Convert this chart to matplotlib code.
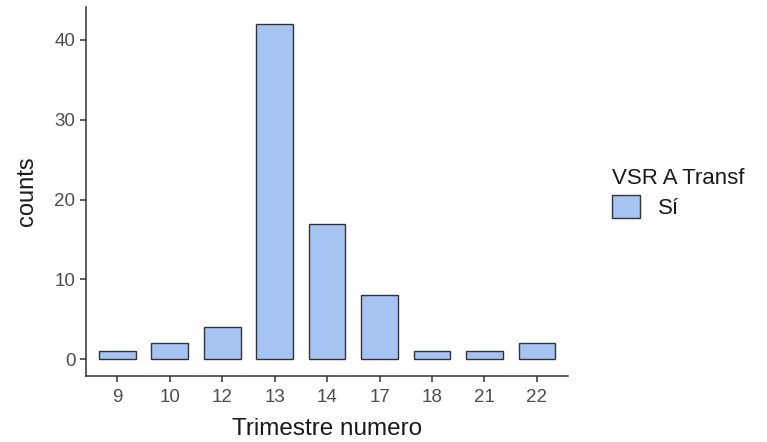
import numpy as np
import matplotlib
matplotlib.use('Agg')
import matplotlib.pyplot as plt
from matplotlib.patches import Patch

plt.rcParams['font.family'] = ['Liberation Sans', 'DejaVu Sans']

# datos
trimestres = ['9', '10', '12', '13', '14', '17', '18', '21', '22']
counts = [1, 2, 4, 42, 17, 8, 1, 1, 2]
grupo = 'Sí'
titulo_leyenda = 'VSR A Transf'

fill = '#a6c4f2'
edge = '#333333'
gris = '#4d4d4d'

fig = plt.figure(figsize=(7.67, 4.42), dpi=100)
ax = fig.add_axes([0.112, 0.149, 0.629, 0.835])

x = np.arange(len(trimestres))
ax.bar(x, counts, width=0.7, color=fill, edgecolor=edge, linewidth=1.0)

ax.set_xlim(-0.6, len(trimestres) - 0.4)
ax.set_ylim(-2.1, 44.1)
ax.set_xticks(x)
ax.set_xticklabels(trimestres)
ax.set_yticks([0, 10, 20, 30, 40])

for s in ['top', 'right']:
    ax.spines[s].set_visible(False)
for s in ['left', 'bottom']:
    ax.spines[s].set_color('#333333')
    ax.spines[s].set_linewidth(1.1)
ax.tick_params(colors='#333333', labelcolor=gris, labelsize=13.5, length=4, width=1.1)
ax.tick_params(axis='x', pad=5)

ax.set_xlabel('Trimestre numero', fontsize=17.5, color='#1a1a1a', labelpad=9)
ax.set_ylabel('counts', fontsize=17, color='#1a1a1a', labelpad=12)

leg = fig.legend(handles=[Patch(facecolor=fill, edgecolor=edge, label=grupo)],
                 title=titulo_leyenda, loc='upper left', bbox_to_anchor=(0.772, 0.665),
                 frameon=False, fontsize=16, title_fontsize=16,
                 handlelength=1.25, handleheight=1.25, handletextpad=0.8,
                 labelspacing=0.3)
leg._legend_box.align = 'left'
leg._legend_box.sep = 4
for t in leg.get_texts():
    t.set_color('#1a1a1a')
leg.get_title().set_color('#1a1a1a')

fig.savefig('out.png', dpi=100)
